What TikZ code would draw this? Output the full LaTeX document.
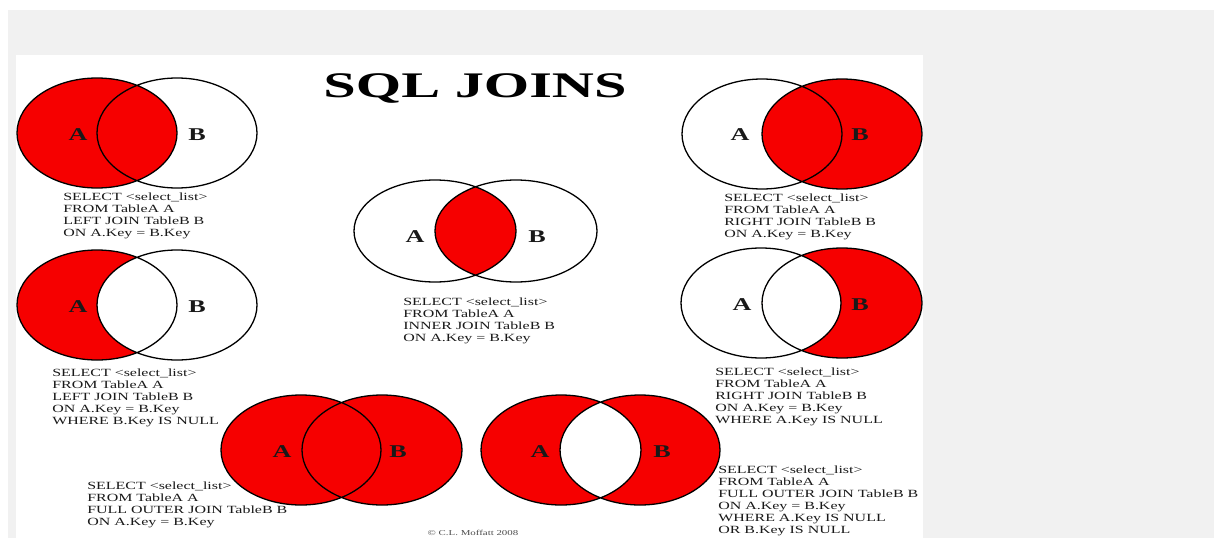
\documentclass[tikz,border=0pt]{standalone}
\usepackage{fontspec}
\setmainfont{Liberation Serif}
\usetikzlibrary{positioning}

\definecolor{joinred}{RGB}{246,0,0}
\definecolor{pagegray}{RGB}{241,241,241}

\begin{document}
\begin{tikzpicture}[
x=1pt, y=-1pt,
% Define styles
venn/.style = {x radius=80pt, y radius=55pt},
vennsmall/.style = {x radius=81pt, y radius=51pt},
setfill/.style = {fill=joinred},
setline/.style = {draw=black, line width=1.3pt},
setlabel/.style = {font=\fontsize{18}{18}\selectfont\bfseries, xscale=1.45, inner sep=0, text=black!90},
query/.style = {font=\fontsize{11}{12}\selectfont, align=left, anchor=north west, xscale=1.45, inner sep=0, text=black!90},
heading/.style = {font=\fontsize{36}{36}\selectfont\bfseries, xscale=1.62, anchor=base}
]

% Page and panel
\useasboundingbox (0,0) rectangle (1214,538);
\clip (0,0) rectangle (1214,538);
\fill[white] (0,0) rectangle (1214,538);
\fill[pagegray] (8,10) rectangle (1214,538);
\fill[white] (16,55) rectangle (923,538);

% Set centres
\coordinate (ljA) at (97,133);  \coordinate (ljB) at (177,133);
\coordinate (leA) at (97,305);  \coordinate (leB) at (177,305);
\coordinate (inA) at (435,231); \coordinate (inB) at (516,231);
\coordinate (rjA) at (762,134); \coordinate (rjB) at (842,134);
\coordinate (reA) at (761,303); \coordinate (reB) at (842,303);
\coordinate (fjA) at (301,450); \coordinate (fjB) at (382,450);
\coordinate (fxA) at (561,450); \coordinate (fxB) at (640,450);

% Filled regions
\fill[setfill] (ljA) ellipse [venn];
\begin{scope}
\clip (leA) ellipse [venn];
\fill[setfill, even odd rule] (leA) ellipse [venn] (leB) ellipse [venn];
\end{scope}
\begin{scope}
\clip (inA) ellipse [vennsmall];
\fill[setfill] (inB) ellipse [vennsmall];
\end{scope}
\fill[setfill] (rjB) ellipse [venn];
\begin{scope}
\clip (reB) ellipse [venn];
\fill[setfill, even odd rule] (reA) ellipse [venn] (reB) ellipse [venn];
\end{scope}
\fill[setfill] (fjA) ellipse [venn] (fjB) ellipse [venn];
\fill[setfill, even odd rule] (fxA) ellipse [venn] (fxB) ellipse [venn];

% Outlines
\draw[setline] (ljA) ellipse [venn] (ljB) ellipse [venn];
\draw[setline] (leA) ellipse [venn] (leB) ellipse [venn];
\draw[setline] (inA) ellipse [vennsmall] (inB) ellipse [vennsmall];
\draw[setline] (rjA) ellipse [venn] (rjB) ellipse [venn];
\draw[setline] (reA) ellipse [venn] (reB) ellipse [venn];
\draw[setline] (fjA) ellipse [venn] (fjB) ellipse [venn];
\draw[setline] (fxA) ellipse [venn] (fxB) ellipse [venn];

% Set labels
\node (ljlabA) [setlabel] at (78,135) {A};  \node (ljlabB) [setlabel] at (197,135) {B};
\node (lelabA) [setlabel] at (78,307) {A};  \node (lelabB) [setlabel] at (197,307) {B};
\node (inlabA) [setlabel] at (415,237) {A}; \node (inlabB) [setlabel] at (537,237) {B};
\node (rjlabA) [setlabel] at (740,135) {A}; \node (rjlabB) [setlabel] at (860,135) {B};
\node (relabA) [setlabel] at (742,305) {A}; \node (relabB) [setlabel] at (860,305) {B};
\node (fjlabA) [setlabel] at (282,452) {A}; \node (fjlabB) [setlabel] at (398,452) {B};
\node (fxlabA) [setlabel] at (540,452) {A}; \node (fxlabB) [setlabel] at (662,452) {B};

% Title
\node (heading) [heading] at (475,97) {SQL JOINS};

% Queries
\node (ljquery) [query] at (63,193) {SELECT <select\_list>\\FROM TableA A\\LEFT JOIN TableB B\\ON A.Key = B.Key};
\node (lequery) [query] at (52,369) {SELECT <select\_list>\\FROM TableA A\\LEFT JOIN TableB B\\ON A.Key = B.Key\\WHERE B.Key IS NULL};
\node (inquery) [query] at (403,298) {SELECT <select\_list>\\FROM TableA A\\INNER JOIN TableB B\\ON A.Key = B.Key};
\node (rjquery) [query] at (724,194) {SELECT <select\_list>\\FROM TableA A\\RIGHT JOIN TableB B\\ON A.Key = B.Key};
\node (requery) [query] at (715,368) {SELECT <select\_list>\\FROM TableA A\\RIGHT JOIN TableB B\\ON A.Key = B.Key\\WHERE A.Key IS NULL};
\node (fjquery) [query] at (87,482) {SELECT <select\_list>\\FROM TableA A\\FULL OUTER JOIN TableB B\\ON A.Key = B.Key};
\node (fxquery) [query] at (718,466) {SELECT <select\_list>\\FROM TableA A\\FULL OUTER JOIN TableB B\\ON A.Key = B.Key\\WHERE A.Key IS NULL\\OR B.Key IS NULL};

% Credit line
\node (credit) [font=\fontsize{7.5}{8}\selectfont, xscale=1.45, anchor=south, inner sep=0, text=black!70] at (473,536) {\copyright\ C.L. Moffatt 2008};
\end{tikzpicture}
\end{document}
